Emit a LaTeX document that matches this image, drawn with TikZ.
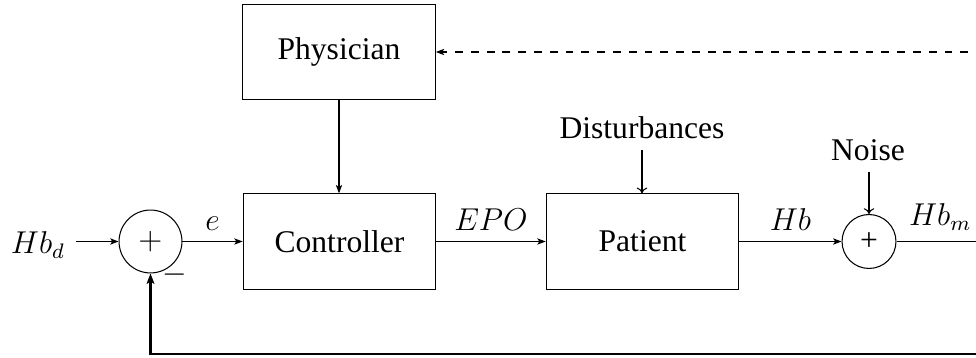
\documentclass[tikz,border=0pt,12pt]{standalone}
\usepackage{fontspec}
\setmainfont{Liberation Serif}
\usetikzlibrary{arrows.meta}
\begin{document}
\begin{tikzpicture}[x=0.38pt,y=-0.38pt,
  line width=0.4pt,
  blockbox/.style={draw,minimum width=73.2pt,minimum height=36.2pt,inner sep=0pt,font=\fontsize{12}{14}\selectfont},
  sumbig/.style={draw,circle,minimum size=23.9pt,inner sep=0pt},
  sumsmall/.style={draw,circle,minimum size=20.5pt,inner sep=0pt},
  txt/.style={font=\fontsize{12}{14}\selectfont},
  arr/.style={-{Stealth[length=3.2pt,width=2.4pt,inset=0.8pt]}},
  openarr/.style={-{To[length=2.2pt,width=4pt]}},
  fb/.style={line width=0.8pt,-{Stealth[length=4pt,width=3pt,inset=1pt]}}]
\path[use as bounding box,clip] (0,0) rectangle (976,358);

\node[blockbox] (phys) at (339,52) {Physician};
\node[blockbox] (ctrl) at (339.5,241.5) {Controller};
\node[blockbox] (pat) at (642.5,241.5) {Patient};
\node[sumbig] (sum1) at (150.5,241.5) {$+$};
\node[sumsmall] (sum2) at (869,241.5) {\fontsize{12}{14}\selectfont +};
\node[txt] (hbd) at (38,245) {$Hb_d$};
\node (minus) at (175,275) {$-$};
\node[txt] (dist) at (642,128) {Disturbances};
\node[txt] (noise) at (868,150) {Noise};
\coordinate (corner) at (984,241.5);
\coordinate (dashstart) at (984,52);

\draw[arr] (hbd.east |- sum1) -- (sum1.west);
\draw[arr] (sum1) -- node[midway,above] {$e$} (ctrl);
\draw[arr] (ctrl) -- node[midway,above] {$EPO$} (pat);
\draw[arr] (pat) -- node[midway,above] {$Hb$} (sum2);
\draw (sum2) -- node[midway,above] {$Hb_m$} (corner);
\draw[arr] (phys) -- (phys |- ctrl.north);
\draw[openarr] (dist.south) -- (dist.south |- pat.north);
\draw[openarr] (noise.south -| sum2) -- (sum2.north);
\draw[arr,dashed] (dashstart) -- (phys.east);
\draw[fb] (corner) -- (corner |- 0,354) -| (sum1.south);
\end{tikzpicture}
\end{document}
